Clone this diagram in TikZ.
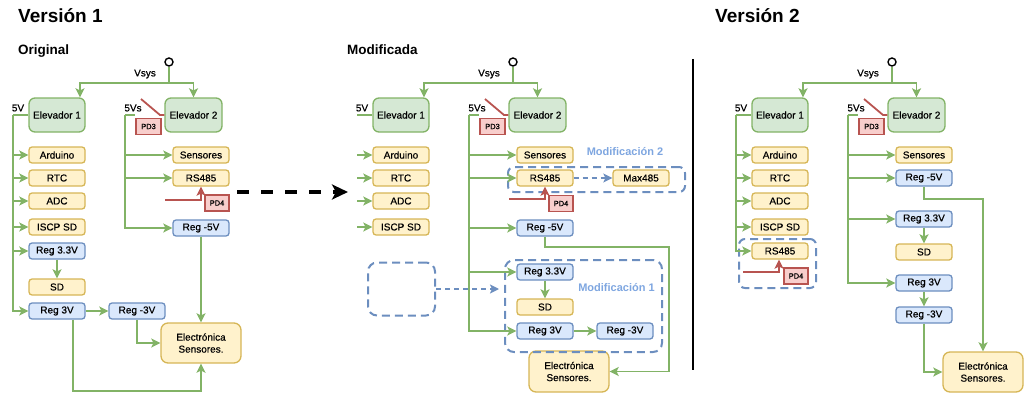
\documentclass[tikz,border=0pt]{standalone}
\usepackage{fontspec}
\setmainfont{Liberation Sans}
\newfontfamily\bxfont{Liberation Sans}[FakeBold=0.5]
\usetikzlibrary{arrows.meta,calc}
\definecolor{grn}{HTML}{82B366}
\definecolor{gfill}{HTML}{D5E8D4}
\definecolor{yfill}{HTML}{FFF2CC}
\definecolor{ydraw}{HTML}{D6B656}
\definecolor{bfill}{HTML}{DAE8FC}
\definecolor{bdraw}{HTML}{6C8EBF}
\definecolor{rfill}{HTML}{F8CECC}
\definecolor{rdraw}{HTML}{B85450}
\definecolor{mlbl}{HTML}{7EA6E0}
\tikzset{
 basebox/.style={draw, line width=1.3pt, rounded corners=3pt, minimum width=56pt, minimum height=16pt, inner sep=0pt, font=\bxfont\fontsize{10}{12}\selectfont},
 ybox/.style={basebox, fill=yfill, draw=ydraw},
 bbox/.style={basebox, fill=bfill, draw=bdraw},
 gbox/.style={basebox, fill=gfill, draw=grn, rounded corners=6pt, minimum height=34pt},
 ebox/.style={basebox, fill=yfill, draw=ydraw, rounded corners=7pt, minimum width=80pt, minimum height=40pt, align=center},
 rbox/.style={draw=rdraw, fill=rfill, line width=1.3pt, minimum width=25pt, minimum height=16pt, inner sep=0pt, font=\bxfont\fontsize{7.5}{9}\selectfont},
 lbl/.style={inner sep=0pt, font=\bxfont\fontsize{10}{12}\selectfont},
 ln/.style={draw=grn, line width=1.8pt},
 arr/.style={ln, -{Stealth[length=9pt,width=9pt,inset=2pt]}},
 redl/.style={draw=rdraw, line width=1.8pt},
 redarr/.style={redl, -{Stealth[length=9pt,width=9pt,inset=2pt]}},
 modbox/.style={draw=bdraw, line width=2pt, dash pattern=on 8pt off 5pt, rounded corners=9pt, inner sep=0pt},
 bdash/.style={draw=bdraw, line width=1.6pt, dash pattern=on 5pt off 4pt, -{Stealth[length=9pt,width=9pt,inset=2pt]}},
 circ/.style={circle, draw=black, fill=white, line width=1.4pt, minimum size=8pt, inner sep=0pt},
 modlbl/.style={inner sep=0pt, text=mlbl, font=\bfseries\fontsize{11}{13}\selectfont},
 title/.style={anchor=base west, inner sep=0pt, font=\bfseries\fontsize{19}{22}\selectfont},
 subtitle/.style={anchor=base west, inner sep=0pt, font=\bfseries\fontsize{13.5}{16}\selectfont},
}
\newcommand{\toppart}[1]{%
 \node[circ] (#1c) at (169,62) {};
 \node[gbox] (#1e1) at (57,115) {Elevador 1};
 \node[gbox, minimum width=57pt] (#1e2) at (193.5,115) {Elevador 2};
 \coordinate (#1v) at (169,83);
 \draw[arr] (#1c.south) -- (#1v) -| ([xshift=23pt]#1e1.north);
 \draw[arr] (#1v) -| (#1e2.north);
 \node[lbl] (#1vs) at (145,74) {Vsys};
 \node[lbl] (#1l5) at (18,108) {5V};
 \node[lbl] (#1l5s) at (133,108) {5Vs};
 \node[rbox] (#1pd3) at (148.5,126.5) {PD3};
 \coordinate (#1B) at (13,115);
 \coordinate (#1S) at (125,115);
 \coordinate (#1sw) at (141,99);
 \draw[ln] (#1S) -- (135,115);
 \draw[redl] (#1sw) -- (160,115) -- (#1e2.west);
 \node[ybox] (#1ard) at (57,155) {Arduino};
 \node[ybox] (#1rtc) at (57,178) {RTC};
 \node[ybox] (#1adc) at (57,201) {ADC};
 \node[ybox] (#1isc) at (57,227) {ISCP SD};
 \draw[ln] (#1e1.west) -- (#1B);
 \foreach \n in {ard,rtc,adc,isc} {\draw[arr] (#1B |- #1\n.west) -- (#1\n.west);}
}
\begin{document}
\begin{tikzpicture}[x=1pt,y=-1pt]
\useasboundingbox (0,0) rectangle (1028,404);
\node[title] (t1) at (18,23) {Versión 1};
\node[title] (t2) at (715,23) {Versión 2};
\node[subtitle] (s1) at (18,55) {Original};
\node[subtitle] (s2) at (347,55) {Modificada};
\coordinate (sepA) at (693,59);
\coordinate (sepB) at (693,370);
\draw[line width=1.5pt] (sepA) -- (sepB);
\coordinate (bigS) at (237,192);
\coordinate (bigE) at (348,192);
\draw[line width=3.5pt, dash pattern=on 12pt off 12pt, -{Stealth[length=16pt,width=15pt,inset=4pt]}] (bigS) -- (bigE);

% ---------------- Original
\begin{scope}
\toppart{a}
\node[bbox] (ar33) at (57,251) {Reg 3.3V};
\node[ybox] (asd) at (57,287) {SD};
\node[bbox] (ar3) at (57,311) {Reg 3V};
\node[bbox] (arm3) at (137,311) {Reg -3V};
\node[ybox] (asen) at (201,155) {Sensores};
\node[ybox] (ars) at (201,178) {RS485};
\node[bbox] (arm5) at (201,228) {Reg -5V};
\node[ebox] (ael) at (201,343) {Electrónica\\Sensores.};
\node[rbox, minimum width=24pt] (apd4) at (217,203) {PD4};
\draw[arr] (aB) |- (ar3.west);
\draw[arr] (aB |- ar33.west) -- (ar33.west);
\draw[arr] (ar33.south) -- (asd.north);
\draw[arr] (ar3.east) -- (arm3.west);
\draw[arr] (aS) |- (arm5.west);
\draw[arr] (aS |- asen.west) -- (asen.west);
\draw[arr] (aS |- ars.west) -- (ars.west);
\coordinate (apdS) at (165,200);
\draw[redarr] (apdS) -| (ars.south);
\draw[arr] (arm5.south) -- (ael.north);
\draw[arr] (arm3.south) |- (ael.west);
\coordinate (aL) at (73,391);
\draw[arr] (ar3.south -| aL) -- (aL) -| (ael.south);
\end{scope}

% ---------------- Modificada
\begin{scope}[shift={(344,0)}]
\toppart{b}
\node[ybox] (bsen) at (201,155) {Sensores};
\node[ybox] (brs) at (201,178) {RS485};
\node[ybox] (bmax) at (297,178) {Max485};
\node[bbox] (brm5) at (201,228) {Reg -5V};
\node[bbox] (br33) at (201,272) {Reg 3.3V};
\node[ybox] (bsd) at (201,307) {SD};
\node[bbox] (br3) at (201,331) {Reg 3V};
\node[bbox] (brm3) at (281,331) {Reg -3V};
\node[ebox, minimum height=41pt] (bel) at (225,371.5) {Electrónica\\Sensores.};
\node[rbox, minimum width=24pt] (bpd4) at (217,203.5) {PD4};
\node[modbox, minimum width=177pt, minimum height=25pt, rounded corners=6pt] (bM2) at (252.5,179.5) {};
\node[modbox, minimum width=157pt, minimum height=92pt] (bM1) at (239.5,306) {};
\node[modbox, minimum width=67pt, minimum height=53pt] (bE) at (57.5,289) {};
\node[modlbl] (bM2l) at (281,152) {Modificación 2};
\node[modlbl] (bM1l) at (272.5,288) {Modificación 1};
\draw[arr] (bS) |- (br3.west);
\foreach \n in {bsen,brs,brm5,br33} {\draw[arr] (bS |- \n.west) -- (\n.west);}
\draw[arr] (br33.south) -- (bsd.north);
\draw[arr] (br3.east) -- (brm3.west);
\draw[bdash] (brs.east) -- (bmax.west);
\coordinate (bpdS) at (165,199);
\draw[redarr] (bpdS) -| (brs.south);
\coordinate (bR) at (325,247);
\draw[arr] (brm5.south) |- (bR) |- (bel.east);
\draw[bdash] (bE.east) -- ($(bM1.west |- bE.east)+(-5,0)$);
\end{scope}

% ---------------- Version 2
\begin{scope}[shift={(723,0)}]
\toppart{c}
\node[ybox] (crs) at (57,251) {RS485};
\node[rbox, minimum width=24pt] (cpd4) at (73,276) {PD4};
\node[modbox, minimum width=77pt, minimum height=49pt, rounded corners=6pt] (cM) at (54.5,263.5) {};
\draw[arr] (cB) |- (crs.west);
\coordinate (cpdS) at (20,272);
\draw[redarr] (cpdS) -| ([xshift=-1pt]crs.south);
\node[ybox] (csen) at (201,155) {Sensores};
\node[bbox] (crm5) at (201,178) {Reg -5V};
\node[bbox] (cr33) at (201,219) {Reg 3.3V};
\node[ybox] (csd) at (201,252) {SD};
\node[bbox] (cr3) at (201,283) {Reg 3V};
\node[bbox] (crm3) at (201,315) {Reg -3V};
\node[ebox] (cel) at (260,372) {Electrónica\\Sensores.};
\draw[arr] (cS) |- (cr3.west);
\foreach \n in {csen,crm5,cr33} {\draw[arr] (cS |- \n.west) -- (\n.west);}
\draw[arr] (cr33.south) -- (csd.north);
\draw[arr] (cr3.south) -- (crm3.north);
\coordinate (cR) at (260,199);
\draw[arr] (crm5.south) |- (cR) -- (cel.north);
\draw[arr] (crm3.south) |- (cel.west);
\end{scope}
\end{tikzpicture}
\end{document}
